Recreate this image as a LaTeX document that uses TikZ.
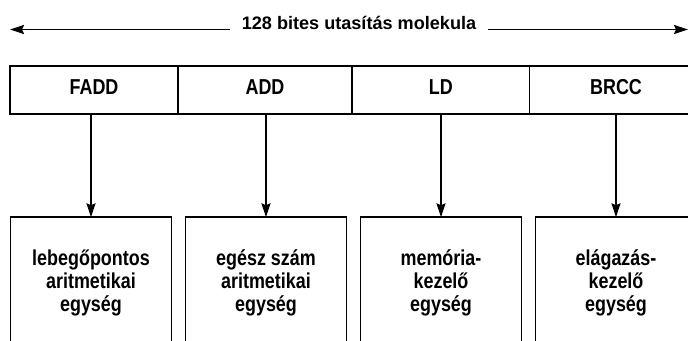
\documentclass[tikz,border=0pt]{standalone}
\usepackage{fontspec}
\setmainfont{Liberation Sans}
\newfontfamily\narrowfont{Liberation Sans}[FakeStretch=0.83]
\usetikzlibrary{positioning, arrows.meta}

\begin{document}
\begin{tikzpicture}[x=1pt, y=-1pt, >={Stealth[length=14pt, width=9pt, inset=2pt]}, line width=1.7pt,
    every node/.style={font=\narrowfont\fontsize{21.6}{23}\selectfont\bfseries, align=center},
    cell/.style={draw, outer sep=0pt, minimum height=48.6pt, text depth=6pt},
    unit/.style={draw, outer sep=0pt, minimum width=161pt, minimum height=131pt}]
    \path[use as bounding box, clip] (0,0) rectangle (688,340);

    % width of the whole word
    \node[anchor=base, inner sep=11pt, font=\fontsize{18.1}{20}\selectfont\bfseries]
        (title) at (359,29.5) {128 bites utasítás molekula};
    \coordinate (lend) at (10,29.5);
    \coordinate (rend) at (688,29.5);
    \draw[->] (title.base west) -- (title.base west -| lend);
    \draw[->] (title.base east) -- (title.base east -| rend);

    % the four operations of the word
    \node[cell, minimum width=168pt] (fadd) at (94,90) {FADD};
    \node[cell, minimum width=174pt, right=0pt of fadd] (add) {ADD};
    \node[cell, minimum width=177.5pt, right=0pt of add] (ld) {LD};
    \node[cell, minimum width=173pt, right=0pt of ld] (brcc) {BRCC};

    % execution units
    \node[unit, anchor=north] (fpu) at (91,217.3) {lebegőpontos\\aritmetikai\\egység};
    \node[unit, right=14pt of fpu] (alu) {egész szám\\aritmetikai\\egység};
    \node[unit, right=14pt of alu] (mem) {memória-\\kezelő\\egység};
    \node[unit, right=14pt of mem] (bru) {elágazás-\\kezelő\\egység};

    \foreach \src/\dst in {fadd/fpu, add/alu, ld/mem, brcc/bru}
        \draw[->] (\src.south -| \dst) -- (\dst);
\end{tikzpicture}
\end{document}
